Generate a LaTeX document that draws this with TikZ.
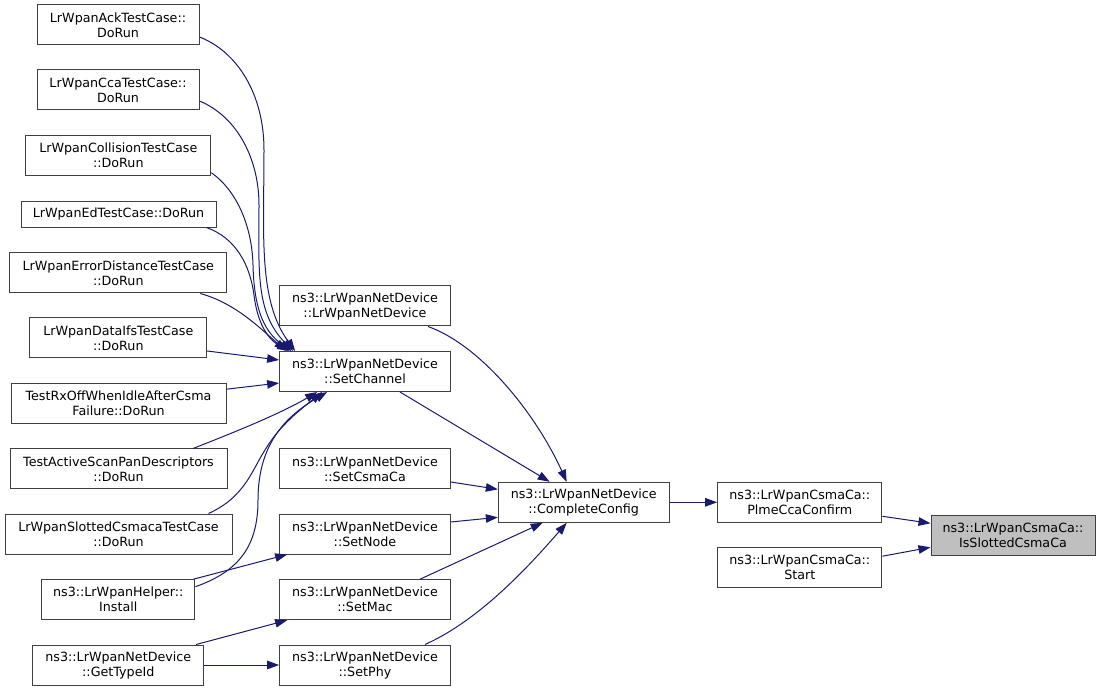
\documentclass[tikz,border=0pt]{standalone}
\usepackage{fontspec}
\setmainfont{DejaVu Sans}
\usetikzlibrary{arrows.meta,calc}
\definecolor{edgeblue}{HTML}{191970}
\definecolor{boxline}{HTML}{404040}
\definecolor{rootfill}{HTML}{BFBFBF}
\begin{document}
\begin{tikzpicture}[x=1pt,y=-1pt,
  fn/.style={draw=boxline, line width=1pt, fill=white, inner sep=0pt, align=center,
    font=\fontsize{12.7}{15}\selectfont, minimum height=40pt},
  call/.style={draw=edgeblue, line width=1pt, -{Triangle[length=12pt,width=8.5pt]}}]
\useasboundingbox (0,0) rectangle (1101,692);
% left column
\node[fn, minimum width=162pt] (ack) at (118,25) {LrWpanAckTestCase::\\DoRun};
\node[fn, minimum width=162pt] (cca) at (118,90) {LrWpanCcaTestCase::\\DoRun};
\node[fn, minimum width=185pt] (coll) at (118.3,155.7) {LrWpanCollisionTestCase\\::DoRun};
\node[fn, minimum width=195pt, minimum height=25.5pt] (ed) at (118.5,214.3) {LrWpanEdTestCase::DoRun};
\node[fn, minimum width=217pt] (errd) at (118.3,273) {LrWpanErrorDistanceTestCase\\::DoRun};
\node[fn, minimum width=176.7pt] (dataifs) at (118.3,338) {LrWpanDataIfsTestCase\\::DoRun};
\node[fn, minimum width=215pt] (rxoff) at (118.5,403.7) {TestRxOffWhenIdleAfterCsma\\Failure::DoRun};
\node[fn, minimum width=217pt] (scan) at (118.5,469) {TestActiveScanPanDescriptors\\::DoRun};
\node[fn, minimum width=227pt] (slotted) at (118.5,534) {LrWpanSlottedCsmacaTestCase\\::DoRun};
\node[fn, minimum width=153.3pt] (install) at (118.3,599.7) {ns3::LrWpanHelper::\\Install};
\node[fn, minimum width=170.7pt] (gettype) at (118.3,665) {ns3::LrWpanNetDevice\\::GetTypeId};
% middle column
\node[fn, minimum width=170.7pt] (ctor) at (365,306) {ns3::LrWpanNetDevice\\::LrWpanNetDevice};
\node[fn, minimum width=170.7pt] (setchannel) at (365,371.5) {ns3::LrWpanNetDevice\\::SetChannel};
\node[fn, minimum width=170.7pt] (setcsmaca) at (365,469) {ns3::LrWpanNetDevice\\::SetCsmaCa};
\node[fn, minimum width=170.7pt] (setnode) at (365,534) {ns3::LrWpanNetDevice\\::SetNode};
\node[fn, minimum width=170.7pt] (setmac) at (365,599.7) {ns3::LrWpanNetDevice\\::SetMac};
\node[fn, minimum width=170.7pt] (setphy) at (365,665) {ns3::LrWpanNetDevice\\::SetPhy};
% right part
\node[fn, minimum width=170.7pt] (cc) at (583.7,502.3) {ns3::LrWpanNetDevice\\::CompleteConfig};
\node[fn, minimum width=164.3pt] (plme) at (799.8,502.3) {ns3::LrWpanCsmaCa::\\PlmeCcaConfirm};
\node[fn, minimum width=164.3pt] (start) at (799.8,567.7) {ns3::LrWpanCsmaCa::\\Start};
\node[fn, minimum width=164pt, fill=rootfill] (root) at (1013,535.8) {ns3::LrWpanCsmaCa::\\IsSlottedCsmaCa};
% edges into SetChannel
\draw[call] ($(ack.east)+(0,12)$) .. controls (238,52) and (264,95) .. (264,150)
  .. controls (264,235) and (258,300) .. ($(setchannel.north west)+(16,0)$);
\draw[call] ($(cca.east)+(0,11)$) .. controls (238,117) and (259,160) .. (259,205)
  .. controls (259,270) and (255,312) .. ($(setchannel.north west)+(14,0)$);
\draw[call] ($(coll.east)+(0,17)$) .. controls (236,190) and (252,225) .. (253,265)
  .. controls (254,305) and (262,330) .. ($(setchannel.north west)+(12,0)$);
\draw[call] ($(ed.south east)+(-10,0)$) .. controls (236,238) and (250,265) .. (254,295)
  .. controls (257,320) and (266,338) .. ($(setchannel.north west)+(10,0)$);
\draw[call] ($(errd.south east)+(-27,0)$) .. controls (235,303) and (260,328) .. ($(setchannel.north west)+(7,0)$);
\draw[call] ($(dataifs.east)+(0,13)$) -- ($(setchannel.west)+(0,-11.5)$);
\draw[call] ($(rxoff.east)+(0,-14.5)$) -- ($(setchannel.west)+(0,11.5)$);
\draw[call] ($(scan.north)+(74.5,0)$) .. controls (230,434) and (280,414) .. ($(setchannel.south west)+(38,0)$);
\draw[call] ($(slotted.north)+(90,0)$) .. controls (245,497) and (252,470) .. (265,450)
  .. controls (280,425) and (300,410) .. ($(setchannel.south west)+(43,0)$);
\draw[call] ($(install.east)+(0,-13)$) .. controls (240,571) and (258,545) .. (258,500)
  .. controls (258,440) and (290,414) .. ($(setchannel.south west)+(48,0)$);
% other left edges
\draw[call] ($(install.north east)+(-2,0)$) -- ($(setnode.south west)+(8,0)$);
\draw[call] ($(gettype.north east)+(-8,0)$) -- ($(setmac.south west)+(8,0)$);
\draw[call] (gettype.east) -- (setphy.west);
% edges into CompleteConfig
\draw[call] ($(ctor.south)+(63,0)$) .. controls (480,345) and (535,412) .. ($(cc.north)+(-17,0)$);
\draw[call] ($(setchannel.south)+(35,0)$) -- ($(cc.north)+(-34,0)$);
\draw[call] ($(setcsmaca.east)+(0,13)$) -- ($(cc.west)+(0,-13)$);
\draw[call] ($(setnode.east)+(0,-12)$) -- ($(cc.west)+(0,15)$);
\draw[call] ($(setmac.north)+(55,0)$) -- ($(cc.south)+(-41,0)$);
\draw[call] ($(setphy.north)+(60,0)$) .. controls (480,620) and (530,565) .. ($(cc.south)+(-17,0)$);
% right edges
\draw[call] (cc.east) -- (plme.west);
\draw[call] ($(plme.east)+(0,14)$) -- ($(root.west)+(0,-12.5)$);
\draw[call] ($(start.east)+(0,-11.5)$) -- ($(root.west)+(0,11.5)$);
\end{tikzpicture}
\end{document}
